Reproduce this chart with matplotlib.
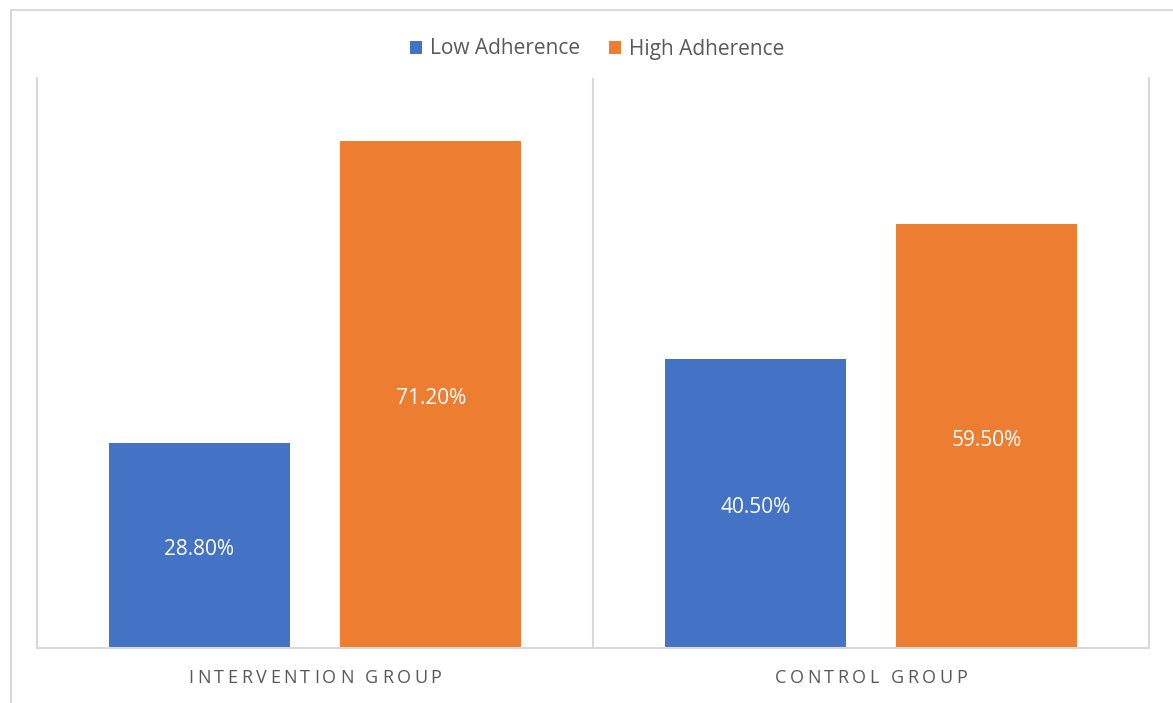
import matplotlib.pyplot as plt
import numpy as np
from matplotlib.patches import Rectangle

# adherence by study arm
groups = ['INTERVENTION GROUP', 'CONTROL GROUP']
series = ['Low Adherence', 'High Adherence']
low = [28.8, 40.5]
high = [71.2, 59.5]
colours = ['#4472C4', '#ED7D31']

plt.rcParams['font.family'] = ['Open Sans', 'DejaVu Sans']
grey = '#595959'
line = '#D9D9D9'

W, H = 1173, 703
fig = plt.figure(figsize=(W / 100, H / 100), dpi=100)
fig.patch.set_facecolor('white')

# chart frame (runs off the right and bottom edges)
fig.patches.append(Rectangle((11 / W, -0.1), 1.2, 1 - 10 / H + 0.1,
                             transform=fig.transFigure, fill=False,
                             edgecolor=line, linewidth=1.5))

ax = fig.add_axes([37 / W, 55 / H, (1149 - 37) / W, (648 - 78) / H])
x = np.arange(len(groups))
width = 0.326
offset = 0.208
for vals, colour, name, dx in zip([low, high], colours, series, [-offset, offset]):
    bars = ax.bar(x + dx, vals, width, color=colour, label=name)
    ax.bar_label(bars, labels=['%.2f%%' % v for v in vals], label_type='center',
                 color='white', fontsize=15, padding=-3)

ax.set_xlim(-0.5, 1.5)
ax.set_ylim(0, 80)
ax.set_yticks([])
ax.set_xticks([])
ax.axvline(0.5, color=line, linewidth=1.5)
for side in ['left', 'right', 'bottom']:
    ax.spines[side].set_color(line)
    ax.spines[side].set_linewidth(1.5)
ax.spines['top'].set_visible(False)

# spaced-out category labels, drawn one character at a time
fig.canvas.draw()
renderer = fig.canvas.get_renderer()
tracking = 3.5
for xi, name in zip(x, groups):
    widths = []
    for ch in name:
        t = fig.text(0, 0, ch if ch != ' ' else 'I', fontsize=13, color=grey)
        w = t.get_window_extent(renderer).width
        if ch == ' ':
            w = 5
        widths.append(w)
        t.remove()
    total = sum(widths) + tracking * (len(name) - 1)
    cx = ax.transData.transform((xi, 0))[0]
    px = cx - total / 2
    for ch, w in zip(name, widths):
        if ch != ' ':
            fig.text(px / W, 1 - 678 / H, ch, fontsize=13, color=grey,
                     ha='left', va='center')
        px += w + tracking

fig.legend(loc='center', bbox_to_anchor=(597 / W, 1 - 49 / H), ncol=2, frameon=False,
           fontsize=15, labelcolor=grey, handlelength=0.6, handleheight=0.6,
           handletextpad=0.35, columnspacing=1.4)

fig.savefig('out.png', dpi=100)
